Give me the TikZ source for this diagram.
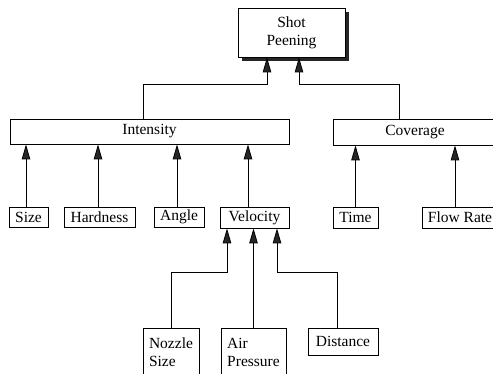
\documentclass[tikz,border=0pt]{standalone}
\usepackage{fontspec}
\setmainfont{Liberation Serif}
\usepackage{tikz}
\usetikzlibrary{arrows.meta, positioning, shadows}
\tikzset{
        box/.style={draw, thick, rectangle, inner sep=0pt, font=\fontsize{15.5}{18}\selectfont, align=center},
        up/.style={-{Triangle[length=15pt,width=8.5pt,fill=black!85]}, line width=0.8pt},
        top box/.style={box, drop shadow={shadow xshift=4pt, shadow yshift=-4pt, fill=black!85, opacity=1}, fill=white},
    }

\begin{document}
\begin{tikzpicture}[x=1pt, y=-1pt]
    \useasboundingbox (0,0) rectangle (493,374);
    \clip (0,0) rectangle (493,374);
    % root
    \node[top box, minimum width=107pt, minimum height=49pt] (shot) at (291.5,32.5) {Shot\\Peening};
    % second level
    \node[box, minimum width=279pt, minimum height=25pt] (intensity) at (149.5,131.5) {Intensity};
    \node[box, minimum width=164pt, minimum height=26pt] (coverage) at (415,132) {Coverage};
    % leaves of intensity and coverage
    \node[box, minimum width=39pt, minimum height=20pt] (size) at (28.5,217) {Size};
    \node[box, minimum width=71pt, minimum height=20pt] (hardness) at (99.5,217) {Hardness};
    \node[box, minimum width=50pt, minimum height=20pt] (angle) at (179,217) {Angle};
    \node[box, minimum width=69pt, minimum height=21pt] (velocity) at (254.5,217.5) {Velocity};
    \node[box, minimum width=45pt, minimum height=21pt] (time) at (355.5,217.5) {Time};
    \node[box, minimum width=76pt, minimum height=21pt] (flowrate) at (460,217.5) {Flow Rate};
    % leaves of velocity
    \node[box, align=left, minimum width=56pt, minimum height=48pt] (nozzle) at (171,352) {Nozzle\\Size};
    \node[box, align=left, minimum width=65pt, minimum height=48pt] (airpressure) at (253.5,352) {Air\\Pressure};
    \node[box, minimum width=70pt, minimum height=27pt] (distance) at (343,341.5) {Distance};

    \draw[up] ([xshift=-6.5pt]intensity.north) -- ++(0,-34) -| ([xshift=-24.5pt]shot.south);
    \draw[up] ([xshift=-16pt]coverage.north) -- ++(0,-34) -| ([xshift=7.5pt]shot.south);

    \draw[up] ([xshift=-2.5pt]size.north) -- ([xshift=-2.5pt]size.north |- intensity.south);
    \draw[up] ([xshift=-1.5pt]hardness.north) -- ([xshift=-1.5pt]hardness.north |- intensity.south);
    \draw[up] ([xshift=-2pt]angle.north) -- ([xshift=-2pt]angle.north |- intensity.south);
    \draw[up] ([xshift=-6.5pt]velocity.north) -- ([xshift=-6.5pt]velocity.north |- intensity.south);
    \draw[up] (time.north) -- (time.north |- coverage.south);
    \draw[up] ([xshift=-5pt]flowrate.north) -- ([xshift=-5pt]flowrate.north |- coverage.south);

    \draw[up] (nozzle.north) -- ++(0,-55) -| ([xshift=-27.5pt]velocity.south);
    \draw[up] (airpressure.north) -- (airpressure.north |- velocity.south);
    \draw[up] ([xshift=-6pt]distance.north) -- ++(0,-55) -| ([xshift=22.5pt]velocity.south);
\end{tikzpicture}
\end{document}
